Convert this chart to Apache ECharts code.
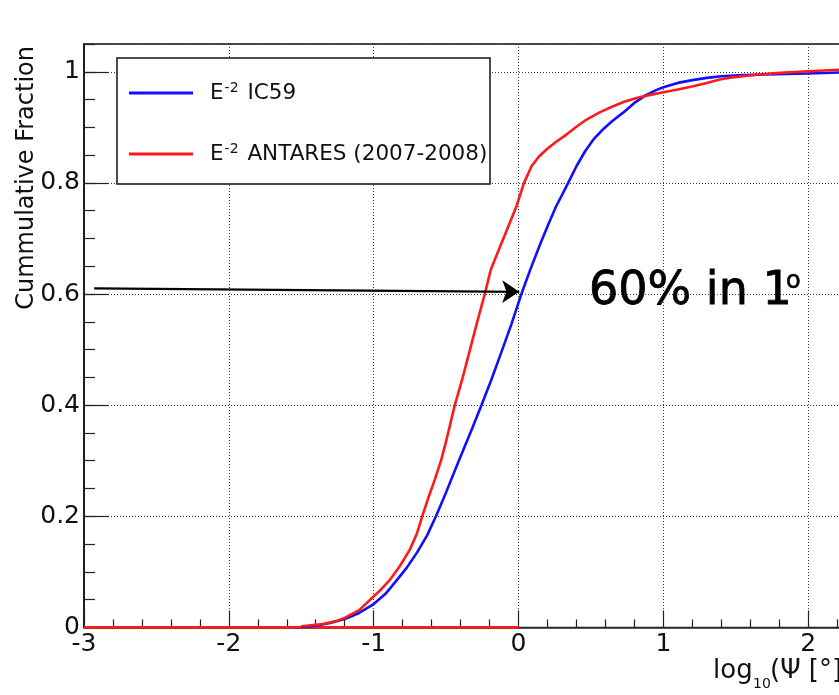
<!DOCTYPE html>
<html>
<head>
<meta charset="utf-8">
<script src="https://cdn.jsdelivr.net/npm/echarts@6/dist/echarts.min.js"></script>
<style>
  html, body { margin: 0; padding: 0; background: #fff; }
  #chart { width: 839px; height: 695px; }
</style>
</head>
<body>
<div id="chart"></div>
<script>
// Cumulative fraction of events vs. log10 of the angular error (degrees)
const xRange = [-3, 3];
const yRange = [0, 1.05];
const xMajorStep = 1;
const yMajorStep = 0.2;
const yMinorStep = 0.05;

const seriesNames = ['IC59', 'ANTARES (2007-2008)'];

// [log10(psi), fraction]
const ic59 = [
  [-1.50, 0.001], [-1.40, 0.003], [-1.30, 0.008], [-1.20, 0.015], [-1.10, 0.026],
  [-1.00, 0.042], [-0.92, 0.060], [-0.84, 0.085], [-0.77, 0.108], [-0.70, 0.135],
  [-0.63, 0.166], [-0.57, 0.200], [-0.50, 0.243], [-0.44, 0.282], [-0.38, 0.320],
  [-0.32, 0.358], [-0.256, 0.400], [-0.19, 0.444], [-0.12, 0.494], [-0.05, 0.545],
  [0.02, 0.600], [0.08, 0.643], [0.15, 0.690], [0.21, 0.728], [0.26, 0.758],
  [0.30, 0.778], [0.343, 0.800], [0.40, 0.830], [0.46, 0.857], [0.52, 0.879],
  [0.59, 0.898], [0.65, 0.912], [0.72, 0.926], [0.80, 0.944], [0.88, 0.958],
  [0.95, 0.967], [1.00, 0.972], [1.10, 0.980], [1.20, 0.985], [1.30, 0.989],
  [1.40, 0.992], [1.55, 0.994], [1.70, 0.995], [1.85, 0.996], [2.00, 0.997],
  [2.25, 0.999]
];

const antares = [
  [-1.50, 0.002], [-1.35, 0.006], [-1.25, 0.012], [-1.20, 0.017], [-1.10, 0.031],
  [-1.015, 0.052], [-0.95, 0.068], [-0.89, 0.085], [-0.82, 0.110], [-0.75, 0.140],
  [-0.70, 0.170], [-0.665, 0.200], [-0.62, 0.235], [-0.578, 0.266], [-0.535, 0.300],
  [-0.497, 0.338], [-0.44, 0.400], [-0.385, 0.450], [-0.335, 0.500], [-0.285, 0.550],
  [-0.233, 0.600], [-0.191, 0.644], [-0.14, 0.677], [-0.09, 0.709], [-0.014, 0.758],
  [0.038, 0.800], [0.09, 0.830], [0.14, 0.847], [0.193, 0.860], [0.26, 0.874],
  [0.331, 0.887], [0.40, 0.901], [0.47, 0.914], [0.56, 0.927], [0.653, 0.938],
  [0.73, 0.946], [0.815, 0.953], [0.90, 0.958], [1.00, 0.963], [1.10, 0.968],
  [1.206, 0.974], [1.30, 0.980], [1.39, 0.986], [1.48, 0.990], [1.575, 0.993],
  [1.70, 0.996], [1.805, 0.998], [2.00, 1.001], [2.25, 1.004]
];

// empty histogram bins of the ANTARES curve drawn along zero
const antaresBaseline = [[-3, 0], [0, 0]];

// arrow pointing to the 60% level at 1 degree
const arrowFrom = [-2.93, 0.61];
const arrowTo = [0.005, 0.604];

const FONT = 'DejaVu Sans';

const chart = echarts.init(document.getElementById('chart'), null, { renderer: 'canvas' });

const dotted = { color: '#3a3a3a', width: 1, type: [1, 2] };

chart.setOption({
  animation: false,
  backgroundColor: '#fff',
  grid: {
    left: 84, top: 44, right: -114, bottom: 67.6,
    outerBoundsMode: 'none', containLabel: false,
    show: true, borderColor: '#111', borderWidth: 1.5, backgroundColor: 'transparent'
  },
  xAxis: [{
    type: 'value', min: xRange[0], max: xRange[1], interval: xMajorStep,
    axisLine: { show: true, onZero: false, lineStyle: { color: '#333', width: 1.5 } },
    axisTick: { show: true, inside: true, length: 17, lineStyle: { color: '#222', width: 1.2 } },
    minorTick: { show: true, splitNumber: 5, length: 8, lineStyle: { color: '#222', width: 1.2 } },
    axisLabel: { fontFamily: FONT, fontSize: 25, color: '#111', margin: 5 },
    splitLine: { show: true, lineStyle: dotted }
  }],
  yAxis: [{
    type: 'value', min: yRange[0], max: yRange[1], interval: yMajorStep,
    axisLine: { show: true, onZero: false, lineStyle: { color: '#111', width: 1.5 } },
    axisTick: { show: true, inside: true, length: 25, lineStyle: { color: '#222', width: 1.2 } },
    axisLabel: { fontFamily: FONT, fontSize: 25, color: '#111', margin: 4, showMaxLabel: false },
    splitLine: { show: true, lineStyle: dotted }
  }, {
    type: 'value', position: 'left', min: yRange[0], max: yRange[1], interval: yMinorStep,
    axisLine: { show: false, onZero: false },
    axisTick: { show: true, inside: true, length: 11, lineStyle: { color: '#222', width: 1.2 } },
    axisLabel: { show: false },
    splitLine: { show: false }
  }],
  legend: {
    data: seriesNames,
    orient: 'vertical',
    left: 129, top: 81,
    padding: 0,
    itemGap: 38,
    itemWidth: 64, itemHeight: 3,
    icon: 'rect',
    selectedMode: false,
    z: 5,
    formatter: name => '{e|E}{s|-2}{e| ' + name + '}',
    textStyle: {
      padding: [0, 0, 0, 12],
      rich: {
        e: { fontFamily: FONT, fontSize: 21.5, color: '#111', lineHeight: 24 },
        s: { fontFamily: FONT, fontSize: 14, color: '#111', verticalAlign: 'top', lineHeight: 22, padding: [0, 2, 0, 1] }
      }
    }
  },
  graphic: [
    { type: 'rect', z: 3, shape: { x: 117, y: 58, width: 373, height: 126 },
      style: { fill: '#fff', stroke: '#111', lineWidth: 1.5 } },
    { type: 'text', z: 6, x: 27, y: 46, rotation: Math.PI / 2,
      style: { text: 'Cummulative Fraction', fontFamily: FONT, fontSize: 24, fill: '#111',
               align: 'right', verticalAlign: 'middle' } },
    { type: 'text', z: 6, x: 713, y: 671,
      style: { text: 'log', fontFamily: FONT, fontSize: 26, fill: '#111', align: 'left', verticalAlign: 'middle' } },
    { type: 'text', z: 6, x: 753, y: 684,
      style: { text: '10', fontFamily: FONT, fontSize: 14, fill: '#111', align: 'left', verticalAlign: 'middle' } },
    { type: 'text', z: 6, x: 770, y: 671,
      style: { text: '(\u03A8 [\u00B0])', fontFamily: FONT, fontSize: 26, fill: '#111', align: 'left', verticalAlign: 'middle' } },
    { type: 'text', z: 6, x: 589, y: 292,
      style: { text: '60% in 1', fontFamily: FONT, fontSize: 46, fill: '#000', align: 'left', verticalAlign: 'middle',
               stroke: '#000', lineWidth: 0.8 } },
    { type: 'text', z: 6, x: 786, y: 282,
      style: { text: 'o', fontFamily: FONT, fontSize: 24, fill: '#000', align: 'left', verticalAlign: 'middle',
               stroke: '#000', lineWidth: 0.6 } }
  ],
  series: [
    {
      name: 'baseline', type: 'line', data: antaresBaseline, symbol: 'none',
      lineStyle: { color: '#ff1a1a', width: 2.8 }, itemStyle: { color: '#ff1a1a' },
      markLine: {
        silent: true, animation: false,
        symbol: ['none', 'arrow'], symbolSize: 17,
        label: { show: false },
        lineStyle: { color: '#000', width: 2.2, type: 'solid' },
        emphasis: { disabled: true },
        data: [[{ coord: arrowFrom }, { coord: arrowTo }]]
      }
    },
    {
      name: seriesNames[0], type: 'line', data: ic59, symbol: 'none',
      lineStyle: { color: '#1010ff', width: 2.6 }, itemStyle: { color: '#1010ff' }
    },
    {
      name: seriesNames[1], type: 'line', data: antares, symbol: 'none',
      lineStyle: { color: '#ff1a1a', width: 2.6 }, itemStyle: { color: '#ff1a1a' }
    }
  ]
});
</script>
</body>
</html>
